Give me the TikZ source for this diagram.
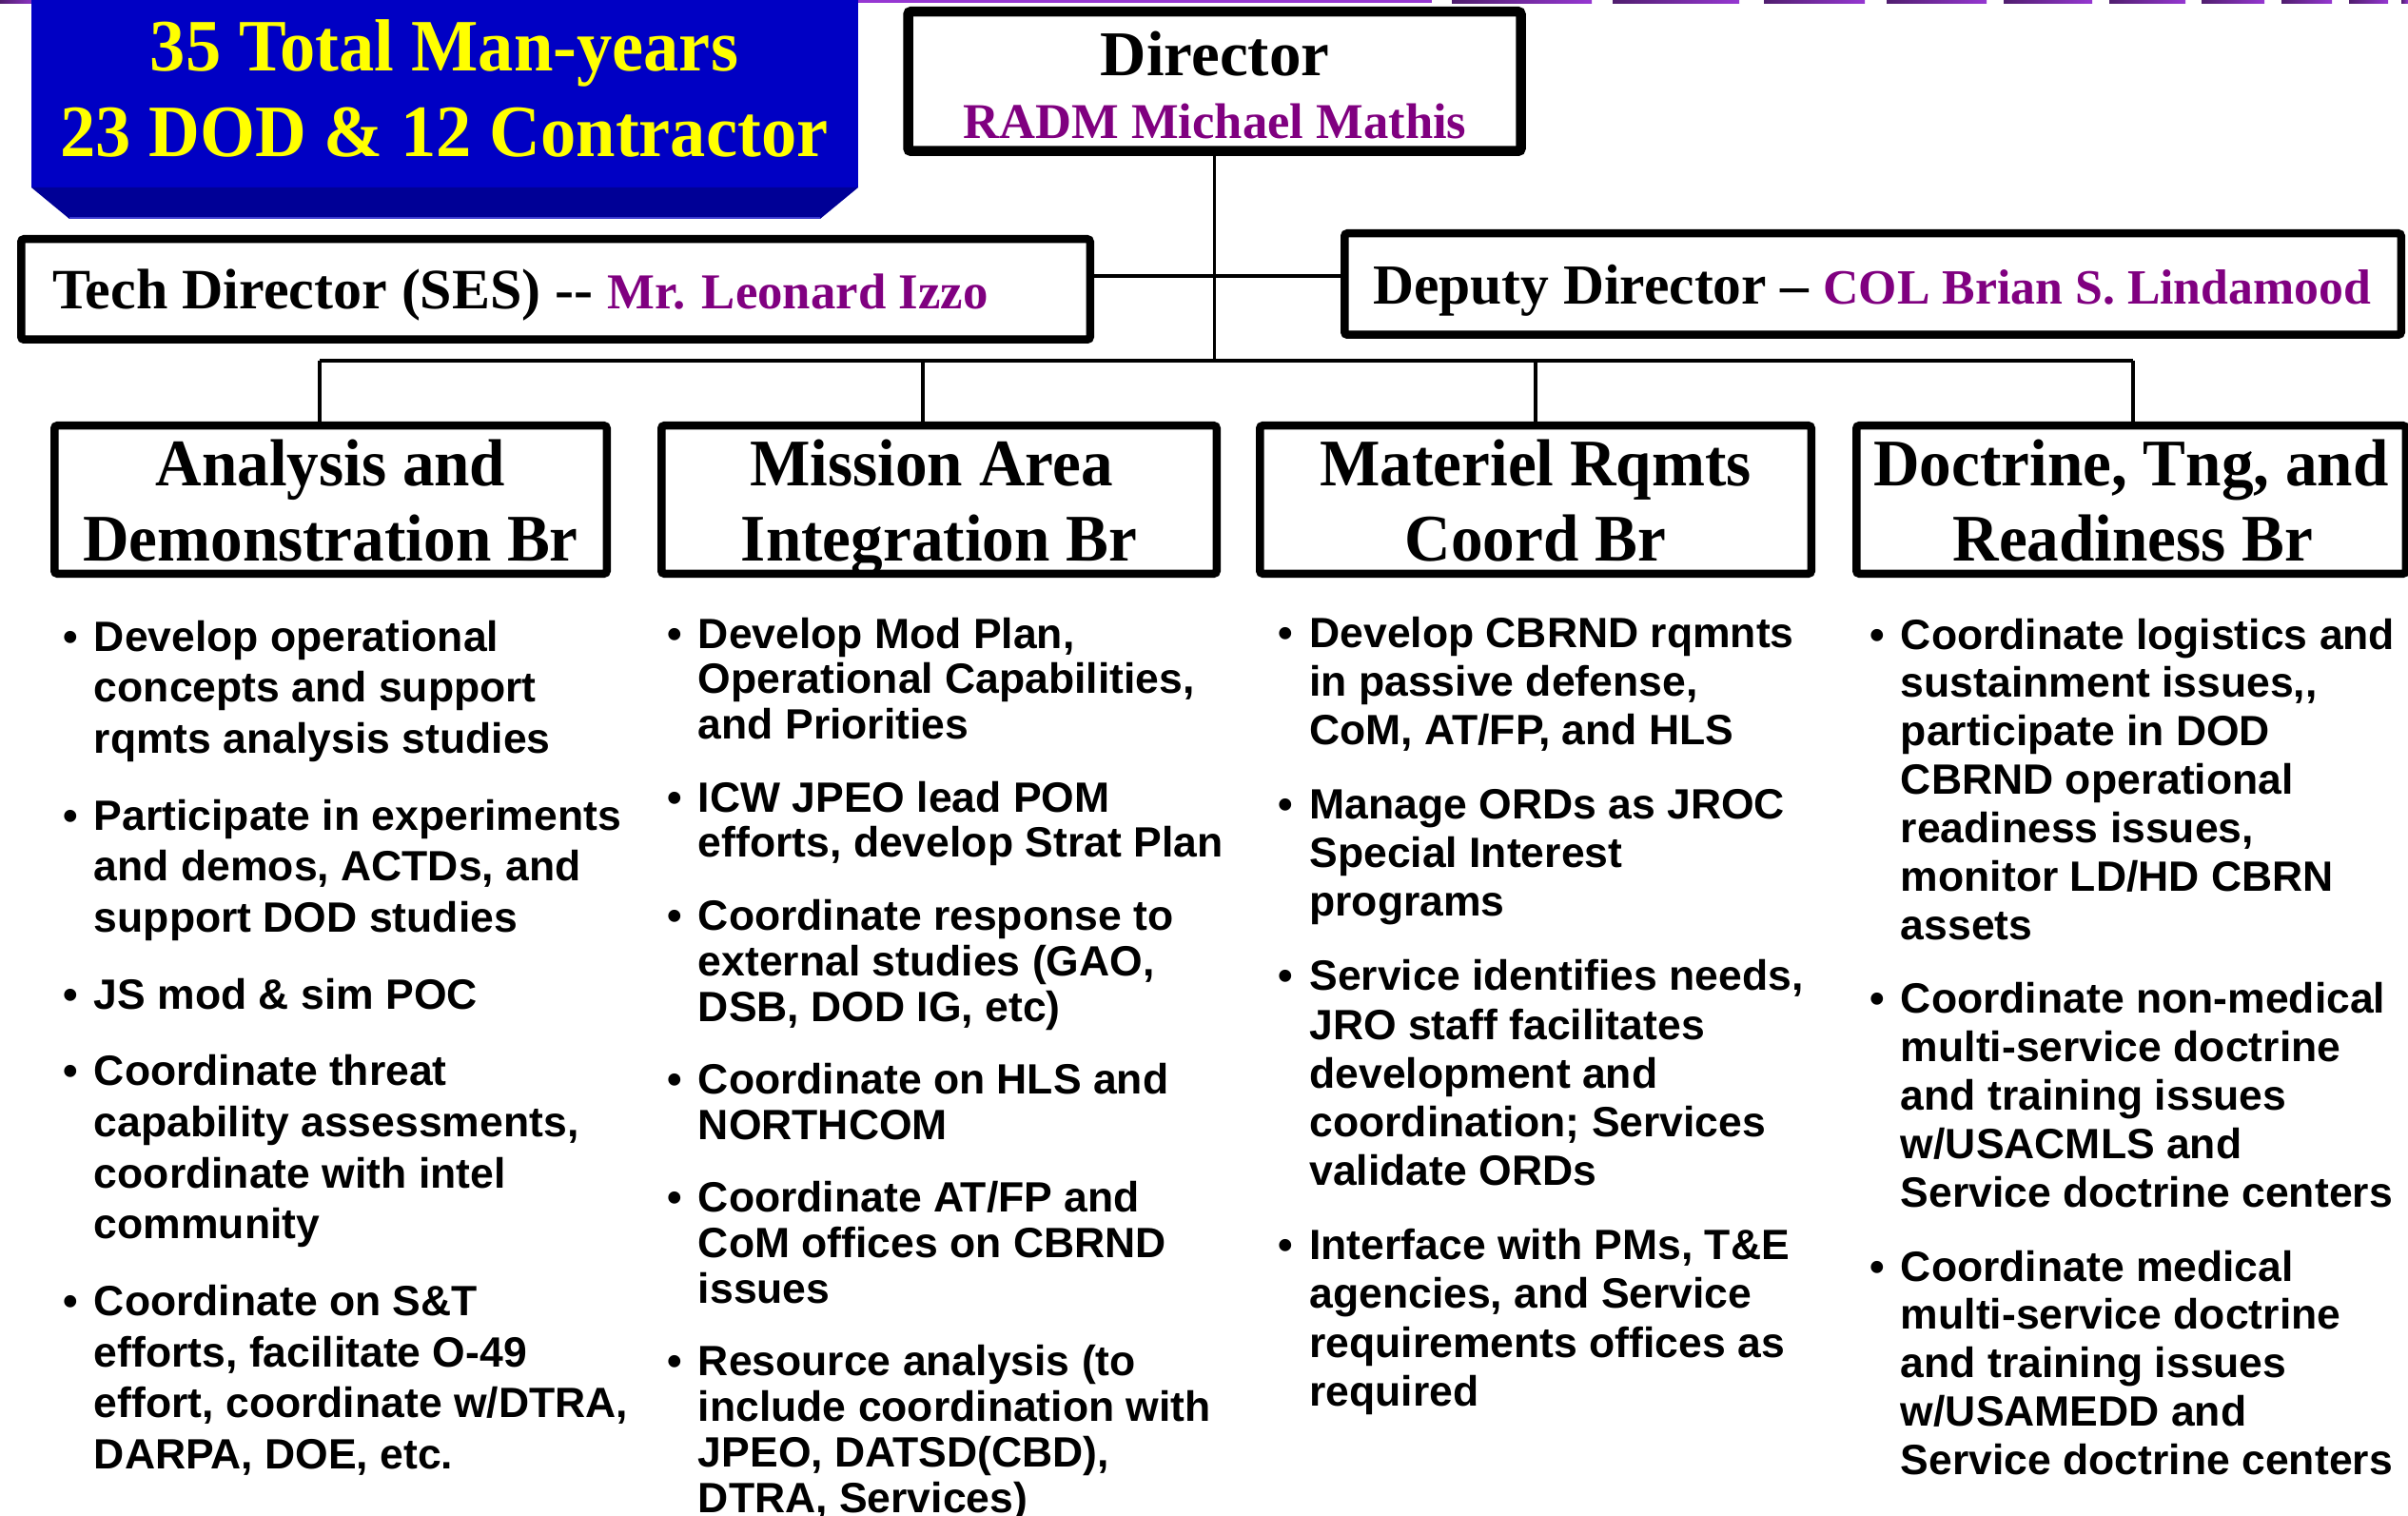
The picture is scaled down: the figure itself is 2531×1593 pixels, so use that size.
\documentclass[tikz,border=0pt]{standalone}
\usepackage{fontspec}
\newfontfamily\tnr{Liberation Serif}
\newfontfamily\tnrc{Liberation Serif}[FakeStretch=0.96]
\newfontfamily\arl{Liberation Sans}
\definecolor{pdark}{RGB}{80,30,110}
\definecolor{pbright}{RGB}{150,55,210}
\definecolor{bblue}{RGB}{0,0,196}
\definecolor{bdark}{RGB}{0,0,150}
\definecolor{bedge}{RGB}{60,60,210}
\definecolor{byellow}{RGB}{255,255,0}
\definecolor{namec}{RGB}{128,0,128}
\newlength\px \setlength\px{0.5pt}
\newcommand\bitem[5]{%
  \node[bul] (#1) at ({#2-24.5},#3) {•};
  \foreach \bline [count=\i] in {#5} {\node[btxt] (#1-\i) at (#2,{#3+(\i-1)*#4}) {\bline};}
}
\begin{document}
\begin{tikzpicture}[x=0.5pt,y=-0.5pt,
  box/.style={draw=black, line width=8.5\px, rounded corners=1.5pt, inner sep=0, outer sep=0, fill=white},
  bbox/.style={box, minimum height=155.5\px},
  conn/.style={draw=black, line width=3.5\px},
  bluetxt/.style={anchor=base, inner sep=0, text=byellow, font=\tnrc\bfseries\fontsize{38.8}{40}\selectfont},
  hdr/.style={anchor=base, inner sep=0, font=\tnrc\bfseries\fontsize{35}{40}\selectfont},
  bul/.style={anchor=base, inner sep=0, font=\arl\bfseries\fontsize{22.25}{26}\selectfont},
  btxt/.style={anchor=base west, inner sep=0, font=\arl\bfseries\fontsize{22.25}{26}\selectfont}
]
\useasboundingbox (0,0) rectangle (2531,1593);

% top purple line
\shade[left color=pdark, right color=pbright] (0,0) rectangle (40,3.5);
\fill[pbright] (880,0) rectangle (1505,3.5);
\foreach \a/\b in {1526/1673,1695/1828,1854/1960,1983/2088,2106/2199,2217/2297,2314/2380,2398/2451,2469/2510,2524/2531}
  \shade[left color=pdark, right color=pbright] (\a,0) rectangle (\b,3.5);

% blue box
\fill[bblue] (33,-2) rectangle (902,197);
\fill[bdark] (33,197) -- (902,197) -- (862,230) -- (73,230) -- cycle;
\draw[bedge, line width=2\px] (73,229) -- (862,229);
\node[bluetxt] (bt1) at (467,75) {35 Total Man-years};
\node[bluetxt] (bt2) at (467,165) {23 DOD \& 12 Contractor};

% connector points
\coordinate (hc) at (1278,290);
\coordinate (bl) at (1278,379);
\coordinate (bl1) at (336,379);
\coordinate (bl2) at (970,379);
\coordinate (bl3) at (1614,379);
\coordinate (bl4) at (2242,379);

% director
\node[box, line width=10.5\px, minimum width=644\px, minimum height=146.5\px] (dir) at (1276.5,85.5) {};
\node[anchor=base, inner sep=0, font=\tnr\bfseries\fontsize{33.5}{36}\selectfont] (dirt1) at (1277,80) {Director};
\node[anchor=base, inner sep=0, text=namec, font=\tnr\bfseries\fontsize{26.3}{30}\selectfont] (dirt2) at (1277,146) {RADM Michael Mathis};

\draw[conn] (dir.south) -- (dir.south |- bl);

% tech and deputy
\node[box, minimum width=1123.5\px, minimum height=105.5\px] (tech) at (584,304) {};
\node[box, minimum width=1110.5\px, minimum height=106.5\px] (dep) at (1968.5,298.5) {};
\draw[conn] (tech.east |- hc) -- (dep.west |- hc);
\node[anchor=base west, inner sep=0] (techt) at (55,325) {{\tnr\bfseries\fontsize{30}{32}\selectfont Tech Director (SES) -{}- }{\color{namec}\tnr\bfseries\fontsize{26.4}{30}\selectfont Mr. Leonard Izzo}};
\node[anchor=base west, inner sep=0] (dept) at (1443,320) {{\tnr\bfseries\fontsize{29.75}{32}\selectfont Deputy Director – }{\color{namec}\tnr\bfseries\fontsize{25.9}{30}\selectfont COL Brian S. Lindamood}};

% branch line
\draw[conn] (bl1) -- (bl4);

% branch boxes
\node[bbox, minimum width=580.5\px] (b1) at (347.5,525) {};
\node[bbox, minimum width=583.5\px] (b2) at (987,525) {};
\node[bbox, minimum width=579.5\px] (b3) at (1614,525) {};
\node[bbox, minimum width=577.5\px] (b4) at (2240,525) {};
\draw[conn] (bl1) -- (bl1 |- b1.north);
\draw[conn] (bl2) -- (bl2 |- b2.north);
\draw[conn] (bl3) -- (bl3 |- b3.north);
\draw[conn] (bl4) -- (bl4 |- b4.north);

\node[hdr] (b1t1) at (347.5,510) {Analysis and};
\node[hdr] (b1t2) at (347.5,589) {Demonstration Br};
\node[hdr] (b2t1) at (979,510) {Mission Area};
\node[hdr] (b2t2) at (987,589) {Integration Br};
\node[hdr] (b3t1) at (1614,510) {Materiel Rqmts};
\node[hdr] (b3t2) at (1614,589) {Coord Br};
\node[hdr] (b4t1) at (2240,510) {Doctrine, Tng, and};
\node[hdr] (b4t2) at (2242,589) {Readiness Br};

% column 1
\bitem{c1a}{98.5}{684}{53.6}{{Develop operational},{concepts and support},{rqmts analysis studies}}
\bitem{c1b}{98.5}{872}{53.6}{{Participate in experiments},{and demos, ACTDs, and},{support DOD studies}}
\bitem{c1c}{98.5}{1060}{53.6}{{JS mod \& sim POC}}
\bitem{c1d}{98.5}{1140.8}{53.6}{{Coordinate threat},{capability assessments,},{coordinate with intel},{community}}
\bitem{c1e}{98.5}{1382.4}{53.6}{{Coordinate on S\&T},{efforts, facilitate O-49},{effort, coordinate w/DTRA,},{DARPA, DOE, etc.}}

% column 2
\bitem{c2a}{733.5}{681}{47.8}{{Develop Mod Plan,},{Operational Capabilities,},{and Priorities}}
\bitem{c2b}{733.5}{853.1}{47.8}{{ICW JPEO lead POM},{efforts, develop Strat Plan}}
\bitem{c2c}{733.5}{977.4}{47.8}{{Coordinate response to},{external studies (GAO,},{DSB, DOD IG, etc)}}
\bitem{c2d}{733.5}{1149.5}{47.8}{{Coordinate on HLS and},{NORTHCOM}}
\bitem{c2e}{733.5}{1273.8}{47.8}{{Coordinate AT/FP and},{CoM offices on CBRND},{issues}}
\bitem{c2f}{733.5}{1445.9}{47.8}{{Resource analysis (to},{include coordination with},{JPEO, DATSD(CBD),},{DTRA, Services)}}

% column 3
\bitem{c3a}{1376}{680}{51.2}{{Develop CBRND rqmnts},{in passive defense,},{CoM, AT/FP, and HLS}}
\bitem{c3b}{1376}{860.4}{51.2}{{Manage ORDs as JROC},{Special Interest},{programs}}
\bitem{c3c}{1376}{1040.8}{51.2}{{Service identifies needs,},{JRO staff facilitates},{development and},{coordination; Services},{validate ORDs}}
\bitem{c3d}{1376}{1323.6}{51.2}{{Interface with PMs, T\&E},{agencies, and Service},{requirements offices as},{required}}

% column 4
\bitem{c4a}{1997.5}{682}{50.9}{{Coordinate logistics and},{sustainment issues,,},{participate in DOD},{CBRND operational},{readiness issues,},{monitor LD/HD CBRN},{assets}}
\bitem{c4b}{1997.5}{1064.9}{50.9}{{Coordinate non-medical},{multi-service doctrine},{and training issues},{w/USACMLS and},{Service doctrine centers}}
\bitem{c4c}{1997.5}{1346}{50.9}{{Coordinate medical},{multi-service doctrine},{and training issues},{w/USAMEDD and},{Service doctrine centers}}
\end{tikzpicture}
\end{document}
